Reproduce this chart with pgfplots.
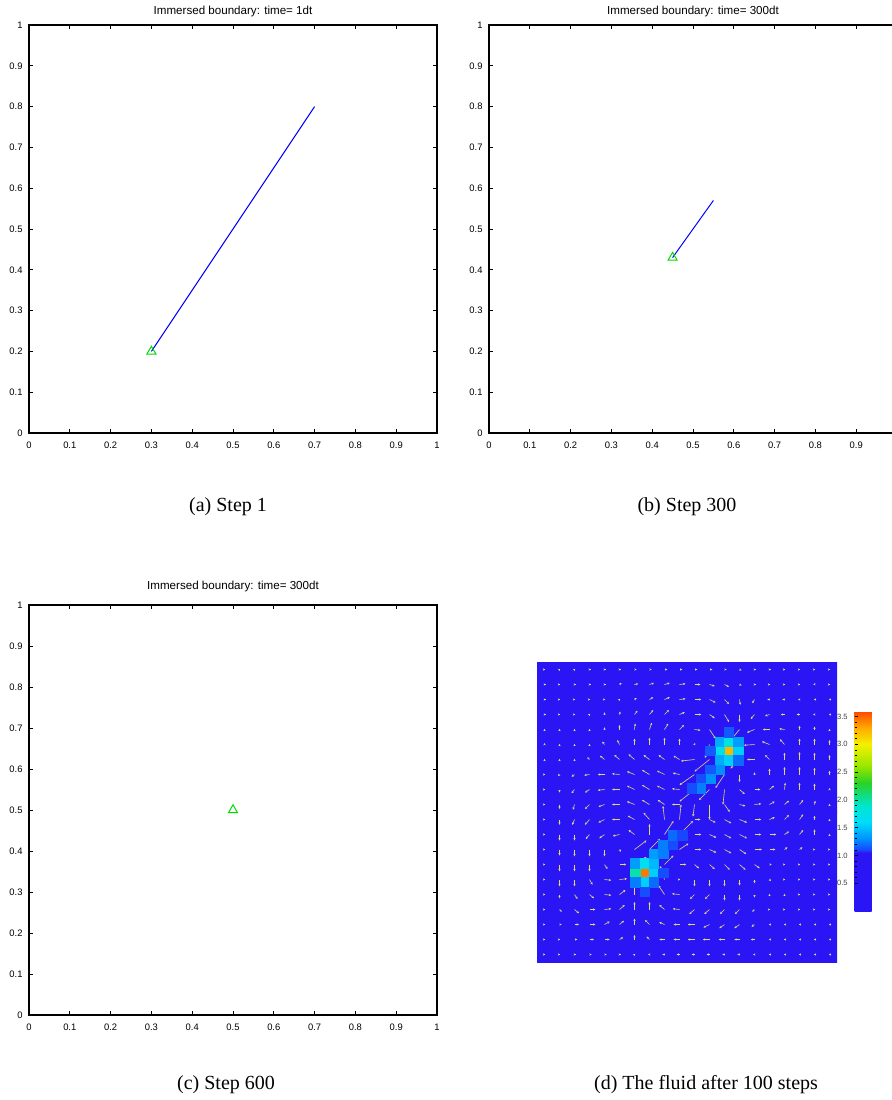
\documentclass[border=0pt]{standalone}
\usepackage{fontspec}
\setmainfont{Liberation Serif}
\newfontfamily\arial{Liberation Sans}
\usepackage{pgfplots}
\usepackage{pgfplotstable}
\pgfplotsset{compat=1.18}
\usetikzlibrary{arrows.meta}

\definecolor{fibre}{rgb}{0,0,1}
\definecolor{tip}{RGB}{0,220,0}
\definecolor{quivcol}{RGB}{225,215,140}

% fibre positions
\pgfplotstableread{
x y
0.3 0.2
0.7 0.8
}\fibreA
\pgfplotstableread{
x y
0.45 0.43
0.55 0.57
}\fibreB
\pgfplotstableread{
x y
0.5 0.5
}\fibreC

% fluid background (values below 1 all map to the same blue)
\pgfplotstableread[row sep=\\]{x y c\\ 0.25 0.25 0.5\\ 0.75 0.25 0.5\\ 0.25 0.75 0.5\\ 0.75 0.75 0.5\\}\fluidbase

% cells above 1 on the 32x32 grid
\pgfplotstableread{
ix iy c
20 22 3.25
19 22 1.7
21 22 1.55
18 22 1.15
19 23 1.4
20 23 1.75
21 23 1.35
20 24 1.15
19 21 1.4
20 21 1.55
21 21 1.2
19 20 1.3
18 20 1.15
18 19 1.3
17 19 1.12
17 18 1.25
16 18 1.12
11 9 3.45
10 9 2.0
12 9 1.55
13 9 1.12
10 10 1.35
11 10 1.65
12 10 1.45
11 8 1.55
10 8 1.25
12 8 1.2
11 7 1.12
12 11 1.35
13 11 1.25
13 12 1.25
14 12 1.12
14 13 1.2
15 13 1.1
}\hotcells

% velocity field on the 20x20 grid (grid units)
\pgfplotstableread[row sep=\\]{i j u v\\
0 19 0.05 0\\ 1 19 0.05 0.05\\ 2 19 0.05 0.05\\ 3 19 0.1 0\\ 4 19 0.1 0\\ 5 19 0.1 0\\ 6 19 0.15 0\\ 7 19 0.15 0\\ 8 19 0.2 0\\ 9 19 0.2 0\\ 10 19 0.2 0\\ 11 19 0.2 0\\ 12 19 0.15 0\\ 13 19 0.15 -0.05\\ 14 19 0.1 0\\ 15 19 0.1 0\\ 16 19 0.05 0\\ 17 19 0.05 0\\ 18 19 0.05 0\\ 19 19 0.05 0\\
0 18 0.1 0\\ 1 18 0.05 0\\ 2 18 0.1 0\\ 3 18 0.1 0\\ 4 18 0.1 0\\ 5 18 0.15 0.1\\ 6 18 0.25 0.05\\ 7 18 0.3 0.1\\ 8 18 0.35 0.1\\ 9 18 0.4 0.05\\ 10 18 0.4 0\\ 11 18 0.35 -0.1\\ 12 18 0.3 -0.15\\ 13 18 0.15 -0.05\\ 14 18 0.1 0\\ 15 18 0.05 0\\ 16 18 0.05 0\\ 17 18 0.05 0\\ 18 18 0.05 0.1\\ 19 18 0.05 0\\
0 17 0.1 0\\ 1 17 0.05 0\\ 2 17 0.05 0\\ 3 17 0.05 0\\ 4 17 0.05 0\\ 5 17 0.05 0.05\\ 6 17 0.15 0.1\\ 7 17 0.25 0.15\\ 8 17 0.35 0.15\\ 9 17 0.4 0.05\\ 10 17 0.45 0\\ 11 17 0.4 -0.2\\ 12 17 0.3 -0.3\\ 13 17 0.05 -0.35\\ 14 17 -0.15 -0.25\\ 15 17 -0.15 0\\ 16 17 -0.15 0\\ 17 17 -0.1 0\\ 18 17 -0.05 0\\ 19 17 -0.05 0\\
0 16 0.1 0\\ 1 16 0.05 0\\ 2 16 0.05 0\\ 3 16 0.05 0.05\\ 4 16 0 0.15\\ 5 16 0.05 0.2\\ 6 16 0.2 0.25\\ 7 16 0.25 0.3\\ 8 16 0.3 0.3\\ 9 16 0.35 0.15\\ 10 16 0.45 0\\ 11 16 0.35 -0.25\\ 12 16 0.3 -0.5\\ 13 16 0 -0.5\\ 14 16 -0.25 -0.3\\ 15 16 -0.3 -0.1\\ 16 16 -0.25 0\\ 17 16 -0.2 0\\ 18 16 -0.1 0\\ 19 16 -0.05 0\\
0 15 0 0.05\\ 1 15 0 0.05\\ 2 15 0 0.05\\ 3 15 0 0.05\\ 4 15 0 0.15\\ 5 15 0 0.3\\ 6 15 0.05 0.4\\ 7 15 0.15 0.45\\ 8 15 0.25 0.4\\ 9 15 0.3 0.3\\ 10 15 0.4 -0.05\\ 11 15 0.4 -0.6\\ 12 15 0 -0.9\\ 13 15 -0.5 -0.6\\ 14 15 -0.5 -0.2\\ 15 15 -0.45 0\\ 16 15 -0.35 0.05\\ 17 15 0 0.25\\ 18 15 0 0.2\\ 19 15 0 0.05\\
0 14 0 0.1\\ 1 14 0 0.05\\ 2 14 0 0.05\\ 3 14 0 0.05\\ 4 14 -0.15 0.2\\ 5 14 -0.15 0.3\\ 6 14 0 0.4\\ 7 14 0 0.45\\ 8 14 0 0.45\\ 9 14 0 0.4\\ 10 14 0.05 0.1\\ 11 14 -0.3 -0.9\\ 12 14 -0.5 -0.5\\ 13 14 -0.6 -0.6\\ 14 14 -0.7 -0.05\\ 15 14 -0.5 0.2\\ 16 14 -0.3 0.35\\ 17 14 0 0.4\\ 18 14 0 0.4\\ 19 14 0 0.3\\
0 13 0 0.05\\ 1 13 0 0.05\\ 2 13 0 0.05\\ 3 13 -0.15 0.15\\ 4 13 -0.3 0.25\\ 5 13 -0.35 0.3\\ 6 13 -0.4 0.35\\ 7 13 -0.4 0.3\\ 8 13 -0.4 0.3\\ 9 13 -0.4 0.25\\ 10 13 -0.9 -0.1\\ 11 13 -1 -0.8\\ 12 13 -0.6 -0.8\\ 13 13 -0.6 -0.6\\ 14 13 -0.5 0\\ 15 13 -0.3 0.3\\ 16 13 0 0.45\\ 17 13 0 0.5\\ 18 13 0 0.45\\ 19 13 0 0.3\\
0 12 0.05 0\\ 1 12 -0.1 -0.1\\ 2 12 -0.2 -0.15\\ 3 12 -0.35 -0.05\\ 4 12 -0.45 0\\ 5 12 -0.5 0.05\\ 6 12 -0.5 0.2\\ 7 12 -0.5 0.3\\ 8 12 -0.5 0.25\\ 9 12 -0.45 0.1\\ 10 12 -1 -0.7\\ 11 12 -0.9 -0.9\\ 12 12 -0.6 -0.9\\ 13 12 0 -0.5\\ 14 12 0 0.15\\ 15 12 0 0.4\\ 16 12 0 0.5\\ 17 12 0 0.5\\ 18 12 0 0.45\\ 19 12 0 0.25\\
0 11 0.05 0\\ 1 11 0 -0.2\\ 2 11 -0.2 -0.25\\ 3 11 -0.3 -0.2\\ 4 11 -0.45 -0.05\\ 5 11 -0.5 0\\ 6 11 -0.5 0.25\\ 7 11 -0.5 0.3\\ 8 11 -0.5 0.25\\ 9 11 -0.5 0.05\\ 10 11 -1 -0.8\\ 11 11 -0.7 -0.7\\ 12 11 -0.1 -1\\ 13 11 0.35 -0.3\\ 14 11 0.4 0\\ 15 11 0.3 0.25\\ 16 11 0.05 0.45\\ 17 11 0 0.45\\ 18 11 0 0.4\\ 19 11 0 0.1\\
0 10 0.05 0\\ 1 10 0 -0.3\\ 2 10 -0.1 -0.35\\ 3 10 -0.3 -0.3\\ 4 10 -0.4 -0.15\\ 5 10 -0.5 0\\ 6 10 -0.5 0.2\\ 7 10 -0.5 0.3\\ 8 10 -0.45 0.3\\ 9 10 -0.5 0\\ 10 10 -0.1 -0.8\\ 11 10 0 -1\\ 12 10 0.35 -0.5\\ 13 10 0.4 -0.1\\ 14 10 0.45 0.05\\ 15 10 0.35 0.2\\ 16 10 0.3 0.25\\ 17 10 0.25 0.3\\ 18 10 0.05 0.25\\ 19 10 0 0.05\\
0 9 0.05 0\\ 1 9 0 -0.35\\ 2 9 -0.15 -0.35\\ 3 9 -0.3 -0.35\\ 4 9 -0.4 -0.2\\ 5 9 -0.5 0\\ 6 9 -0.45 0.25\\ 7 9 -0.4 0.45\\ 8 9 -0.1 0.9\\ 9 9 0.1 1\\ 10 9 0.4 0\\ 11 9 0.4 -0.2\\ 12 9 0.45 -0.25\\ 13 9 0.5 -0.2\\ 14 9 0.45 0\\ 15 9 0.35 0.15\\ 16 9 0.3 0.3\\ 17 9 0.25 0.35\\ 18 9 0 0.25\\ 19 9 0 0.05\\
0 8 0.05 0\\ 1 8 0 -0.4\\ 2 8 0 -0.4\\ 3 8 -0.25 -0.3\\ 4 8 -0.35 -0.25\\ 5 8 -0.45 -0.1\\ 6 8 -0.4 0.3\\ 7 8 0 0.7\\ 8 8 0.6 0.9\\ 9 8 0.9 0.9\\ 10 8 0.45 0\\ 11 8 0.45 -0.2\\ 12 8 0.45 -0.25\\ 13 8 0.5 -0.25\\ 14 8 0.45 0\\ 15 8 0.45 0\\ 16 8 0.3 0.2\\ 17 8 0.25 0.3\\ 18 8 0 0.35\\ 19 8 0 0.05\\
0 7 0.05 0\\ 1 7 0 -0.4\\ 2 7 0 -0.45\\ 3 7 0 -0.45\\ 4 7 0 -0.45\\ 5 7 0.1 -0.15\\ 6 7 0.8 0.6\\ 7 7 0.7 0.7\\ 8 7 0.9 0.9\\ 9 7 0.6 0.4\\ 10 7 0.45 0\\ 11 7 0.45 -0.2\\ 12 7 0.45 -0.25\\ 13 7 0.45 -0.3\\ 14 7 0.5 0\\ 15 7 0.4 0\\ 16 7 0.2 0.15\\ 17 7 0.2 0.15\\ 18 7 0.05 0\\ 19 7 0.05 0\\
0 6 0.05 0\\ 1 6 0 -0.45\\ 2 6 0 -0.45\\ 3 6 0 -0.45\\ 4 6 0.2 -0.3\\ 5 6 0.45 0\\ 6 6 0.8 0.5\\ 7 6 0.5 0.5\\ 8 6 0.6 0.6\\ 9 6 0.45 0\\ 10 6 0.3 -0.25\\ 11 6 0.35 -0.3\\ 12 6 0.35 -0.35\\ 13 6 0.4 -0.35\\ 14 6 0.35 -0.25\\ 15 6 0.15 0\\ 16 6 0.05 0\\ 17 6 0.05 0\\ 18 6 0.05 0\\ 19 6 0.05 0\\
0 5 0.05 0\\ 1 5 0 -0.45\\ 2 5 0 -0.45\\ 3 5 0.2 -0.35\\ 4 5 0.45 -0.05\\ 5 5 0.5 0.05\\ 6 5 0.05 1\\ 7 5 0 1\\ 8 5 -0.3 0.9\\ 9 5 0.05 0\\ 10 5 0 -0.45\\ 11 5 0 -0.45\\ 12 5 0 -0.45\\ 13 5 0 -0.4\\ 14 5 0 -0.25\\ 15 5 0.1 -0.1\\ 16 5 0.05 0\\ 17 5 0.05 0\\ 18 5 0.05 0\\ 19 5 0.05 0\\
0 4 0.05 0\\ 1 4 0 -0.25\\ 2 4 0.2 -0.3\\ 3 4 0.3 -0.25\\ 4 4 0.45 -0.05\\ 5 4 0.4 0.3\\ 6 4 0 0.9\\ 7 4 0 1\\ 8 4 -0.4 0.6\\ 9 4 -0.5 0.05\\ 10 4 -0.3 -0.3\\ 11 4 -0.3 -0.3\\ 12 4 0 -0.4\\ 13 4 0 -0.4\\ 14 4 0 -0.2\\ 15 4 0 0.05\\ 16 4 0 0.05\\ 17 4 0.05 0\\ 18 4 0.05 0\\ 19 4 0.05 0\\
0 3 0.05 0\\ 1 3 0.15 -0.15\\ 2 3 0.3 -0.25\\ 3 3 0.4 0\\ 4 3 0.45 0.05\\ 5 3 0.35 0.3\\ 6 3 0 0.5\\ 7 3 0 0.5\\ 8 3 -0.35 0.3\\ 9 3 -0.45 0.05\\ 10 3 -0.35 -0.3\\ 11 3 -0.35 -0.3\\ 12 3 -0.3 -0.3\\ 13 3 -0.3 -0.3\\ 14 3 -0.15 -0.15\\ 15 3 0.05 0\\ 16 3 0.05 0\\ 17 3 0.05 0\\ 18 3 0.05 0\\ 19 3 0.05 0\\
0 2 0.05 0\\ 1 2 0.15 0\\ 2 2 0.3 0\\ 3 2 0.4 0\\ 4 2 0.35 0.2\\ 5 2 0.3 0.25\\ 6 2 0 0.4\\ 7 2 -0.3 0.3\\ 8 2 -0.35 0.15\\ 9 2 -0.4 0\\ 10 2 -0.45 0\\ 11 2 -0.4 -0.2\\ 12 2 -0.35 -0.25\\ 13 2 -0.35 -0.25\\ 14 2 -0.2 -0.15\\ 15 2 -0.05 0\\ 16 2 -0.05 0\\ 17 2 -0.05 0\\ 18 2 -0.05 0\\ 19 2 -0.05 0\\
0 1 0.05 0\\ 1 1 0.05 0\\ 2 1 0.2 0\\ 3 1 0.3 0\\ 4 1 0.35 0\\ 5 1 0.25 0.15\\ 6 1 0 0.3\\ 7 1 -0.2 0.2\\ 8 1 -0.35 0\\ 9 1 -0.4 0\\ 10 1 -0.45 0\\ 11 1 -0.45 0\\ 12 1 -0.4 0\\ 13 1 -0.35 0\\ 14 1 -0.25 0\\ 15 1 -0.05 0\\ 16 1 -0.05 0\\ 17 1 -0.05 0\\ 18 1 -0.05 0\\ 19 1 -0.05 0\\
0 0 0.05 0\\ 1 0 0.05 0\\ 2 0 0.1 0\\ 3 0 0.15 0\\ 4 0 0.15 0\\ 5 0 0.1 0\\ 6 0 0.05 0.05\\ 7 0 -0.1 0\\ 8 0 -0.15 0\\ 9 0 -0.2 0\\ 10 0 -0.2 0\\ 11 0 -0.2 0\\ 12 0 -0.15 0\\ 13 0 -0.15 0\\ 14 0 -0.1 0\\ 15 0 -0.05 0\\ 16 0 -0.05 0\\ 17 0 -0.05 0\\ 18 0 -0.05 0\\ 19 0 -0.05 0\\
}\velfield

\pgfplotsset{
  ibpanel/.style={
    scale only axis, width=204pt, height=204pt,
    xmin=0, xmax=1, ymin=0, ymax=1,
    xtick={0,0.1,0.2,0.3,0.4,0.5,0.6,0.7,0.8,0.9,1},
    ytick={0,0.1,0.2,0.3,0.4,0.5,0.6,0.7,0.8,0.9,1},
    tick pos=both, tick align=inside,
    major tick length=2pt,
    axis line style={line width=0.8pt},
    tick style={line width=0.5pt, black},
    /pgf/number format/assume math mode=true,
    ticklabel style={font=\arial\fontsize{4.7}{5.5}\selectfont},
    xticklabel style={yshift=-0.8pt},
    yticklabel style={xshift=0.3pt},
  },
  fibreplot/.style={fibre, line width=0.5pt, mark=triangle, mark indices={1},
    mark size=2.6pt, mark options={tip, line width=0.5pt}},
}
\tikzset{ttl/.style={font=\arial\fontsize{5.8}{7}\selectfont, anchor=base, inner sep=0pt},
  subcap/.style={font=\fontsize{10}{12}\selectfont}}

\begin{document}
\begin{tikzpicture}

\begin{axis}[ibpanel, name=pa, at={(14.5pt,-216.5pt)}, anchor=south west]
\addplot[fibreplot] table {\fibreA};
\end{axis}
\node[ttl] at ([yshift=5.3pt]pa.north) {Immersed boundary: time= 1dt};

\begin{axis}[ibpanel, name=pb, at={(244.5pt,-216.5pt)}, anchor=south west,
  xticklabels={0,0.1,0.2,0.3,0.4,0.5,0.6,0.7,0.8,0.9,{}}]
\addplot[fibreplot] table {\fibreB};
\end{axis}
\node[ttl] at ([yshift=5.3pt]pb.north) {Immersed boundary: time= 300dt};

\begin{axis}[ibpanel, name=pc, at={(14.5pt,-507.5pt)}, anchor=south west, height=205pt]
\addplot[fibreplot] table {\fibreC};
\end{axis}
\node[ttl] at ([yshift=7.6pt]pc.north) {Immersed boundary: time= 300dt};

\begin{axis}[at={(268.5pt,-481pt)}, anchor=south west,
  scale only axis, width=150pt, height=150pt,
  xmin=0, xmax=1, ymin=0, ymax=1,
  axis lines=none, xtick=\empty, ytick=\empty,
  colormap={fluidjet}{
    rgb255(0pt)=(42,22,245);
    rgb255(10.5pt)=(42,22,245);
    rgb255(11pt)=(25,70,255);
    rgb255(13pt)=(0,145,255);
    rgb255(16pt)=(0,220,250);
    rgb255(19pt)=(0,230,205);
    rgb255(23pt)=(40,210,40);
    rgb255(26pt)=(150,230,0);
    rgb255(30pt)=(245,240,0);
    rgb255(33pt)=(255,170,0);
    rgb255(36pt)=(255,70,0)},
  point meta min=0, point meta max=3.6,
  colorbar,
  colorbar style={
    at={(parent axis.north east)}, anchor=north west,
    xshift=0.3pt, yshift=-24.5pt,
    scale only axis, width=8.5pt, height=100pt,
    ytick={0.5,1,1.5,2,2.5,3,3.5},
    minor y tick num=4,
    yticklabel pos=left, ytick pos=left,
    tick align=inside,
    major tick length=1.5pt, minor tick length=1pt,
    tick style={black, line width=0.3pt},
    axis line style={draw=none},
    /pgf/number format/assume math mode=true,
    yticklabel style={font=\arial\fontsize{3.8}{4.5}\selectfont, text=black!75,
      /pgf/number format/fixed, /pgf/number format/fixed zerofill,
      /pgf/number format/precision=1},
  }]
\addplot[matrix plot*, mesh/cols=2, point meta=explicit] table[meta=c] {\fluidbase};
\addplot[scatter, only marks, mark=square*, mark size=2.35pt, point meta=explicit,
  scatter/use mapped color={draw=mapped color, fill=mapped color}]
  table[x expr=(\thisrow{ix}+0.5)/32, y expr=(\thisrow{iy}+0.5)/32, meta=c] {\hotcells};
\addplot[quiver={u=\thisrow{u}, v=\thisrow{v}, scale arrows=0.05},
  -{Stealth[length=1.2pt, width=1.1pt]}, draw=quivcol, line width=0.3pt]
  table[x expr=\thisrow{i}*0.05+0.025, y expr=\thisrow{j}*0.05+0.025] {\velfield};
\end{axis}

\node[subcap] at (114pt,-253.5pt) {(a) Step 1};
\node[subcap] at (343.5pt,-253.5pt) {(b) Step 300};
\node[subcap] at (113pt,-542.5pt) {(c) Step 600};
\node[subcap] at (353pt,-542.5pt) {(d) The fluid after 100 steps};

\pgfresetboundingbox
\useasboundingbox (0,0) rectangle (445.5pt,-550pt);
\end{tikzpicture}
\end{document}
